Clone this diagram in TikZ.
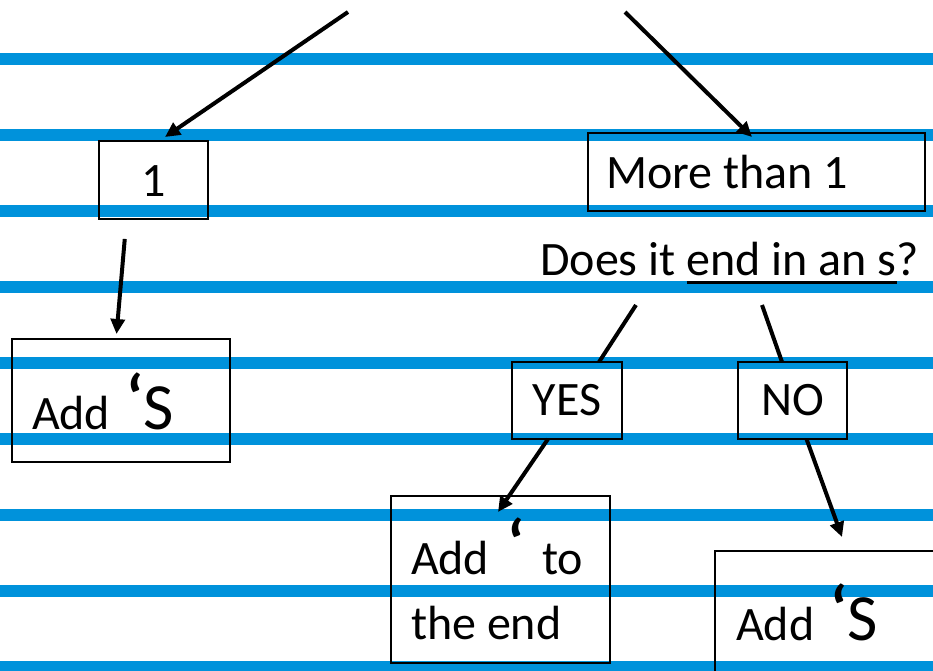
\documentclass[tikz,border=0pt]{standalone}
\usepackage{fontspec}
\setmainfont{Carlito}
\usetikzlibrary{arrows.meta}
\definecolor{ruleblue}{RGB}{0,146,219}
% large apostrophe and S
\newcommand{\bigq}[1]{{\fontsize{66}{66}\selectfont #1}}
\newcommand{\quo}{\raisebox{8pt}{\bigq{\bfseries ‘}}}
\newcommand{\thickul}[1]{\setbox0\hbox{#1}\rlap{\rule[-8.5pt]{\wd0}{3pt}}\box0}
\begin{document}
\begin{tikzpicture}[x=1pt,y=-1pt,
    font=\fontsize{48}{65}\selectfont,
    box/.style={draw, line width=1.5pt, inner ysep=0pt, outer sep=0pt, anchor=north west},
    link/.style={line width=4pt},
    arr/.style={link, -{Triangle[length=15pt,width=14pt]}}]
  \clip (0,0) rectangle (933,671);
  \foreach \y in {59,135,...,667}
    \draw[ruleblue, line width=12.5pt] (0,\y) -- (933,\y);

  \node[box, minimum width=109pt, inner xsep=0pt, text height=55pt, text depth=23pt] (one) at (99,141) {1};
  \node[box, text width=301pt, inner xsep=18pt, text height=55pt, text depth=23pt, align=flush left] (more) at (588,133) {More than 1};
  \node[anchor=base west, inner sep=0pt] (ask) at (540,275) {Does it \thickul{end in an s}?};
  \node[box, minimum width=110pt, inner xsep=0pt, text height=53pt, text depth=24pt] (yes) at (512,362) {YES};
  \node[box, minimum width=109pt, inner xsep=0pt, text height=53pt, text depth=24pt] (no) at (738,362) {NO};
  \node[box, text width=178pt, inner xsep=20pt, text height=90pt, text depth=33pt, align=flush left] (addL) at (12,339) {Add\hspace{16pt}\quo\bigq{S}};
  \node[box, text width=179pt, inner xsep=20pt, text height=78pt, text depth=89pt, align=flush left] (toend) at (391,496) {Add\hspace{18pt}\quo\hspace{18pt}to\\the end};
  \node[box, text width=184pt, inner xsep=21pt, text height=89pt, text depth=41pt, align=flush left] (addR) at (715,551) {Add\hspace{16pt}\quo\bigq{S}};

  \coordinate (fromL) at (348,12);
  \coordinate (fromR) at (625,12);
  \coordinate (askL) at (636,305);
  \coordinate (askR) at (762,305);

  \draw[arr] (fromL) -- ([xshift=11.5pt, yshift=4pt]one.north);
  \draw[arr] (fromR) -- ([xshift=-4.5pt, yshift=-4pt]more.north);
  \draw[arr, shorten <=20pt] ([xshift=-27pt]one.south) -- ([xshift=-4.5pt, yshift=5pt]addL.north);
  \draw[link] (askL) -- ([xshift=32pt]yes.north);
  \draw[link] (askR) -- ([xshift=-10.5pt]no.north);
  \draw[arr] ([xshift=-19pt]yes.south) -- ([xshift=-2.5pt, yshift=-16pt]toend.north);
  \draw[arr] ([xshift=14pt]no.south) -- ([xshift=14pt, yshift=14pt]addR.north);
\end{tikzpicture}
\end{document}
